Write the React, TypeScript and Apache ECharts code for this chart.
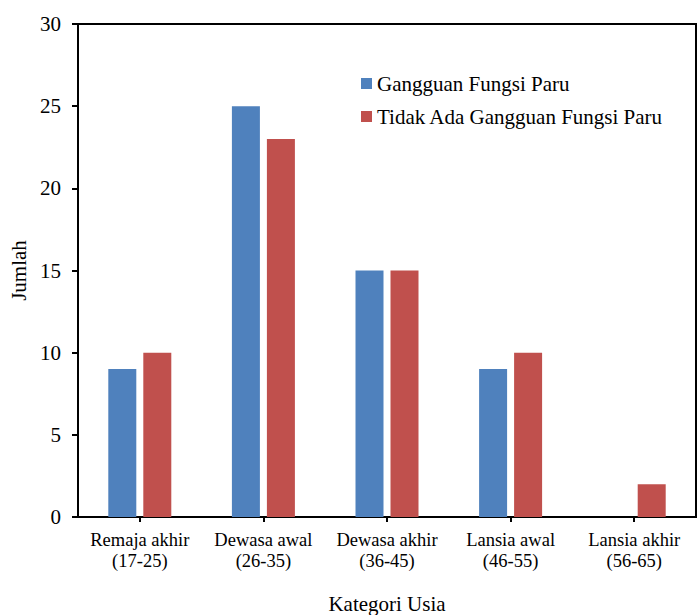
import React, { useEffect, useRef } from "react";
import * as echarts from "echarts";

const categories = [
  "Remaja akhir\n(17-25)",
  "Dewasa awal\n(26-35)",
  "Dewasa akhir\n(36-45)",
  "Lansia awal\n(46-55)",
  "Lansia akhir\n(56-65)",
];
const seriesNames = ["Gangguan Fungsi Paru", "Tidak Ada Gangguan Fungsi Paru"];
const gangguan = [9, 25, 15, 9, 0];
const tidakAda = [10, 23, 15, 10, 2];

const FONT = "Liberation Serif";

export default function App() {
  const ref = useRef<HTMLDivElement>(null);
  useEffect(() => {
    if (!ref.current) return;
    const chart = echarts.init(ref.current, undefined, { renderer: "svg" });
    chart.setOption({
      animation: false,
      backgroundColor: "#fff",
      textStyle: { fontFamily: FONT },
      grid: {
        left: 78,
        top: 24,
        right: 3,
        bottom: 98,
        outerBoundsMode: "none",
        containLabel: false,
        show: true,
        borderColor: "#000",
        borderWidth: 2,
        backgroundColor: "transparent",
      },
      legend: {
        orient: "vertical",
        left: 361,
        top: 73,
        padding: 0,
        itemWidth: 11,
        itemHeight: 11,
        itemGap: 12,
        icon: "rect",
        textStyle: { fontFamily: FONT, fontSize: 21, color: "#000" },
        data: seriesNames,
      },
      xAxis: {
        type: "category",
        data: categories,
        name: "Kategori Usia",
        nameLocation: "middle",
        nameGap: 76,
        nameTextStyle: { fontFamily: FONT, fontSize: 21, color: "#000" },
        axisLine: { lineStyle: { color: "#000", width: 2 } },
        axisTick: { show: true, alignWithLabel: true, interval: 0, length: 5, lineStyle: { color: "#000", width: 2 } },
        axisLabel: {
          interval: 0,
          hideOverlap: false,
          fontFamily: FONT,
          fontSize: 18.5,
          color: "#000",
          lineHeight: 21,
          margin: 12,
        },
      },
      yAxis: {
        type: "value",
        min: 0,
        max: 30,
        interval: 5,
        name: "Jumlah",
        nameLocation: "middle",
        nameGap: 43,
        nameTextStyle: { fontFamily: FONT, fontSize: 21, color: "#000" },
        axisLine: { show: true, lineStyle: { color: "#000", width: 2 } },
        axisTick: { show: true, length: 6, lineStyle: { color: "#000", width: 2 } },
        axisLabel: { fontFamily: FONT, fontSize: 21, color: "#000", margin: 17 },
        splitLine: { show: false },
      },
      series: [
        {
          name: seriesNames[0],
          type: "bar",
          data: gangguan,
          barWidth: 28,
          barGap: "25%",
          itemStyle: { color: "#4F81BD" },
        },
        {
          name: seriesNames[1],
          type: "bar",
          data: tidakAda,
          barWidth: 28,
          barGap: "25%",
          itemStyle: { color: "#C0504D" },
        },
      ],
    });
    return () => chart.dispose();
  }, []);
  return <div ref={ref} style={{ position: "fixed", left: 0, top: 0, width: 699, height: 615 }} />;
}
